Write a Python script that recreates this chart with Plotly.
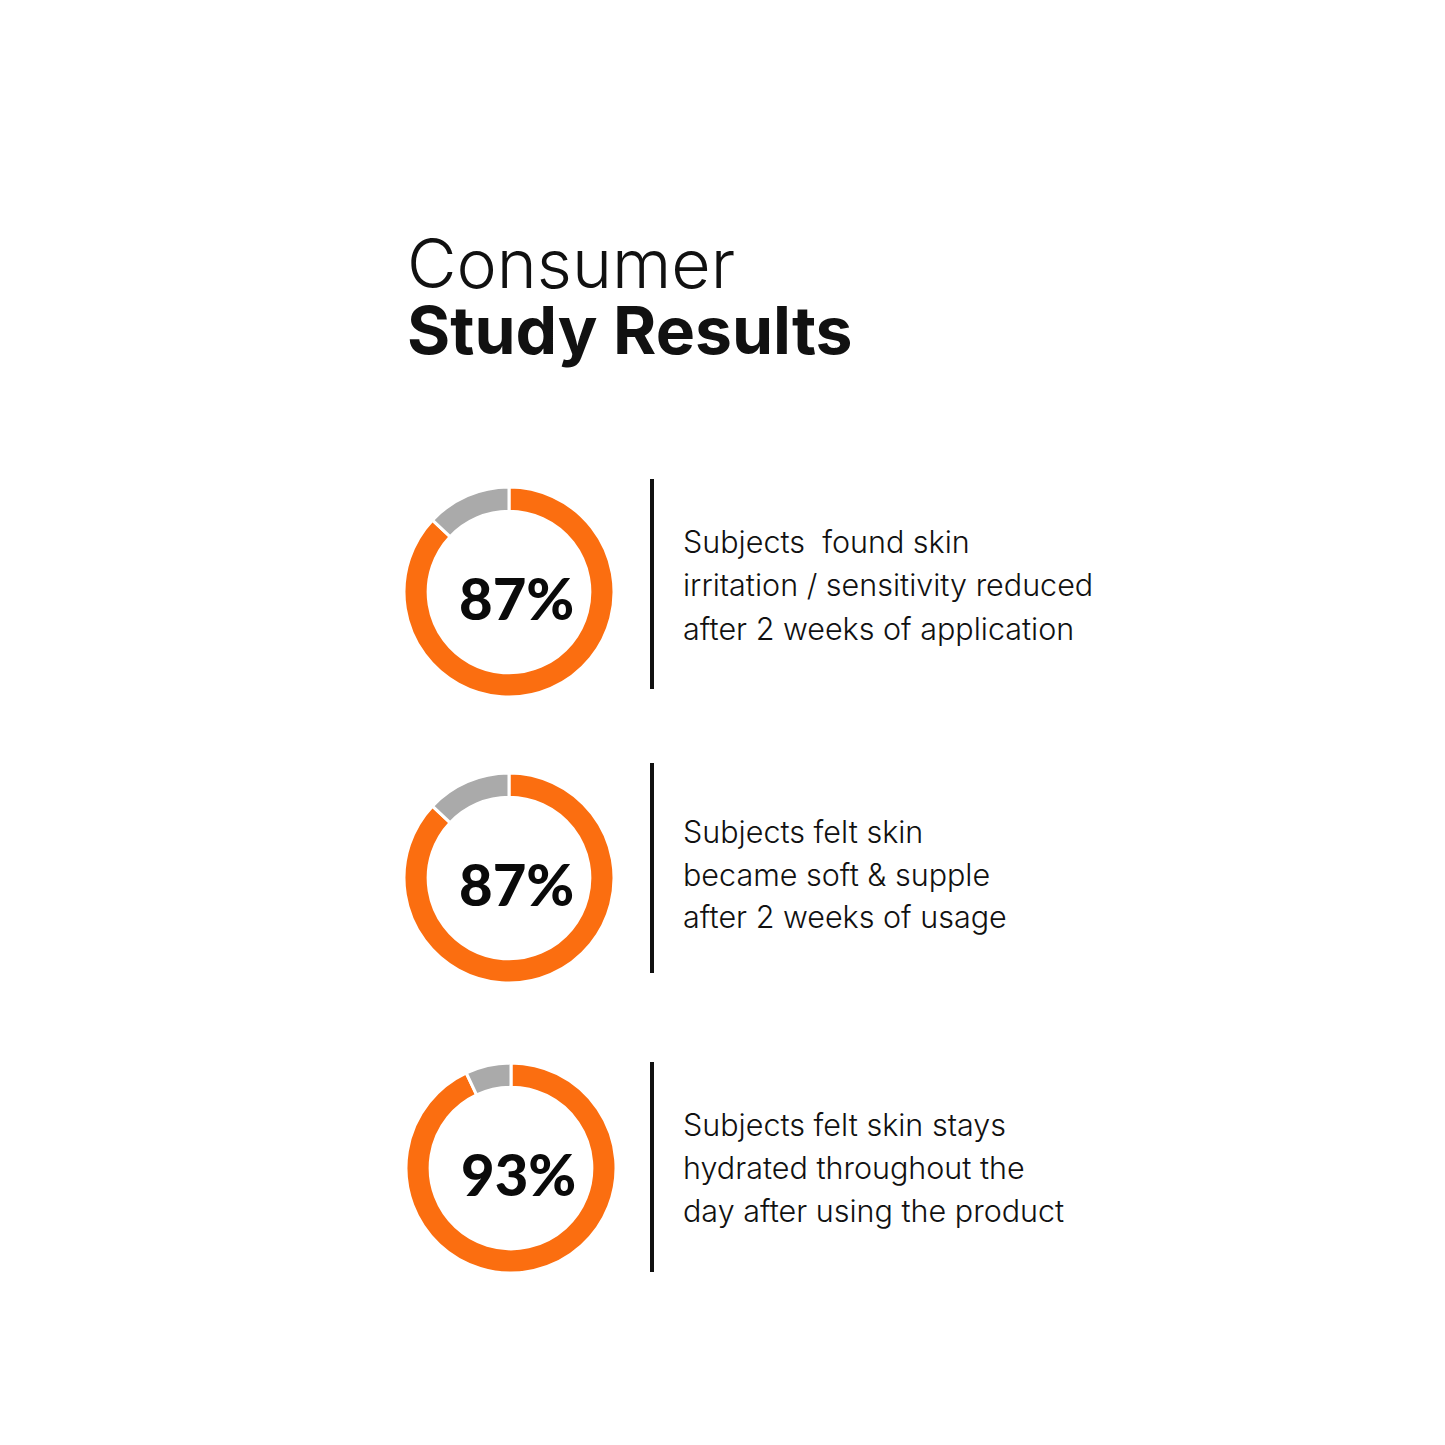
import plotly.graph_objects as go

W = H = 1445

# data
percents = [87, 87, 93]
labels = ["Agree", "Other"]
descriptions = [
    ["Subjects  found skin", "irritation / sensitivity reduced", "after 2 weeks of application"],
    ["Subjects felt skin", "became soft & supple", "after 2 weeks of usage"],
    ["Subjects felt skin stays", "hydrated throughout the", "day after using the product"],
]
title_line1 = "Consumer"
title_line2 = "Study Results"

ORANGE = "#FB6E10"
GRAY = "#AAAAAA"

# layout (pixels)
centers = [(509, 592), (509, 878), (511, 1168)]
R = 105
divider_y = [(479, 689), (763, 973), (1062, 1272)]
divider_x = 652
text_x = 681
text_line_y = [[541, 584, 628], [831, 874, 917], [1124, 1167, 1210]]

def px(x):
    return x / W

def py(y):
    return 1 - y / H

fig = go.Figure()
annotations = []
shapes = []

for i, p in enumerate(percents):
    cx, cy = centers[i]
    fig.add_trace(go.Pie(
        values=[p, 100 - p],
        labels=labels,
        hole=0.77,
        sort=False,
        direction="clockwise",
        rotation=0,
        marker=dict(colors=[ORANGE, GRAY], line=dict(color="white", width=3)),
        textinfo="none",
        hoverinfo="skip",
        showlegend=False,
        domain=dict(x=[px(cx - R), px(cx + R)], y=[py(cy + R), py(cy - R)]),
    ))
    annotations.append(dict(
        x=px(cx + 7), y=py(cy + 5), xref="paper", yref="paper",
        text=f"{p}%", showarrow=False,
        font=dict(family="Lato", size=58, color="#0a0a0a", weight=900),
        xanchor="center", yanchor="middle",
    ))
    y0, y1 = divider_y[i]
    shapes.append(dict(type="line", xref="paper", yref="paper",
                       x0=px(divider_x), x1=px(divider_x), y0=py(y0), y1=py(y1),
                       line=dict(color="#111111", width=4)))
    for line, ly in zip(descriptions[i], text_line_y[i]):
        annotations.append(dict(
            x=px(text_x), y=py(ly), xref="paper", yref="paper",
            text=line, showarrow=False,
            font=dict(family="Inter", size=30.5, color="#111111", weight=300),
            xanchor="left", yanchor="middle",
        ))

annotations.append(dict(
    x=px(405), y=py(263), xref="paper", yref="paper",
    text=title_line1, showarrow=False,
    font=dict(family="Inter", size=68, color="#111111", weight=300),
    xanchor="left", yanchor="middle",
))
annotations.append(dict(
    x=px(405), y=py(330), xref="paper", yref="paper",
    text=title_line2, showarrow=False,
    font=dict(family="Inter", size=66, color="#111111", weight=700),
    xanchor="left", yanchor="middle",
))

fig.update_layout(
    width=W, height=H,
    margin=dict(l=0, r=0, t=0, b=0),
    paper_bgcolor="white", plot_bgcolor="white",
    annotations=annotations, shapes=shapes,
)

fig.write_html("out.html")
